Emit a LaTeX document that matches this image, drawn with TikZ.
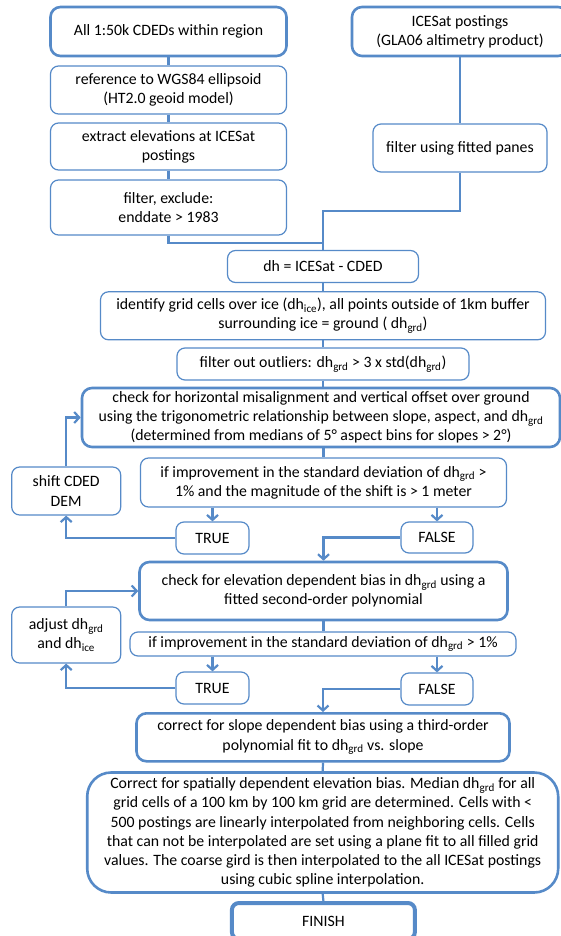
\documentclass[tikz,border=0pt]{standalone}
\usepackage{fontspec}
\setmainfont{Carlito}
\usetikzlibrary{arrows.meta}
\definecolor{bl}{RGB}{86,138,200}
\begin{document}
\begin{tikzpicture}[x=1pt,y=-1pt,
  every node/.style={font=\fontsize{15.8}{19.2}\selectfont},
  tbox/.style={draw=bl, line width=1.2pt, rounded corners=8pt, fill=white, align=center, inner sep=0pt},
  kbox/.style={tbox, line width=2.6pt, rounded corners=10pt},
  conn/.style={draw=bl, line width=2.2pt},
  arr/.style={conn, -{Straight Barb[length=5pt,width=11pt]}}]
\useasboundingbox (0,0) rectangle (561,936);
\clip (0,0) rectangle (561,936);
\fill[white] (0,0) rectangle (561,936);
% left column
\node[kbox, minimum width=236, minimum height=49] (cded) at (168.5,31.5) {All 1:50k CDEDs within region};
\node[tbox, minimum width=236, minimum height=48] (ref) at (168.5,90) {reference to WGS84 ellipsoid\\(HT2.0 geoid model)};
\node[tbox, minimum width=236, minimum height=47] (extract) at (168.5,146.5) {extract elevations at ICESat\\postings};
\node[tbox, minimum width=236, minimum height=55] (filterex) at (168.5,207.5) {filter, exclude:\\enddate > 1983};
% right column
\node[kbox, minimum width=216, minimum height=49] (icesat) at (460,31.5) {ICESat postings\\(GLA06 altimetry product)};
\node[tbox, minimum width=174, minimum height=48] (panes) at (460,148) {filter using fitted panes};
% centre
\node[tbox, minimum width=191, minimum height=32] (dh) at (323,266.5) {dh = ICESat - CDED};
\node[tbox, minimum width=445, minimum height=48] (identify) at (323,315.8) {identify grid cells over ice (dh\textsubscript{ice}), all points outside of 1km buffer\\surrounding ice = ground ( dh\textsubscript{grd})};
\node[tbox, minimum width=292, minimum height=32] (outliers) at (323,364) {filter out outliers: dh\textsubscript{grd} > 3 x std(dh\textsubscript{grd})};
\node[kbox, minimum width=478, minimum height=59] (hcheck) at (321,417.5) {check for horizontal misalignment and vertical offset over ground\\using the trigonometric relationship between slope, aspect, and dh\textsubscript{grd}\\(determined from medians of 5° aspect bins for slopes > 2°)};
\node[tbox, minimum width=366, minimum height=49] (if1) at (323.5,482.5) {if improvement in the standard deviation of dh\textsubscript{grd} >\\1\% and the magnitude of the shift is > 1 meter};
\node[tbox, minimum width=109, minimum height=48] (shift) at (66.2,491) {shift CDED\\DEM};
\node[tbox, minimum width=73, minimum height=32] (true1) at (212.5,538) {TRUE};
\node[tbox, minimum width=72, minimum height=31] (false1) at (437,537.5) {FALSE};
\node[kbox, minimum width=368, minimum height=58] (echeck) at (323.5,591) {check for elevation dependent bias in dh\textsubscript{grd} using a\\fitted second-order polynomial};
\node[tbox, minimum width=109, minimum height=56] (adjust) at (66.2,635) {adjust dh\textsubscript{grd}\\and dh\textsubscript{ice}};
\node[tbox, minimum width=386, minimum height=24] (if2) at (323,644) {if improvement in the standard deviation of dh\textsubscript{grd} > 1\%};
\node[tbox, minimum width=73, minimum height=32] (true2) at (212.5,688) {TRUE};
\node[tbox, minimum width=72, minimum height=32] (false2) at (437,689) {FALSE};
\node[kbox, minimum width=373, minimum height=48] (slope) at (323,737.3) {correct for slope dependent bias using a third-order\\polynomial fit to dh\textsubscript{grd} vs. slope};
\node[kbox, rounded corners=24pt, minimum width=471, minimum height=120] (spatial) at (322.7,832.5) {Correct for spatially dependent elevation bias. Median dh\textsubscript{grd} for all\\grid cells of a 100 km by 100 km grid are determined. Cells with <\\500 postings are linearly interpolated from neighboring cells. Cells\\that can not be interpolated are set using a plane fit to all filled grid\\values. The coarse gird is then interpolated to the all ICESat postings\\using cubic spline interpolation.};
\node[tbox, line width=4pt, rounded corners=7pt, minimum width=183, minimum height=36] (finish) at (323.4,921) {FINISH};
% connectors
\coordinate (j1) at (323,243);
\coordinate (j2) at (323,211);
\begin{scope}[on background layer/.try]
\end{scope}
\draw[conn] (cded.south) -- (ref.north);
\draw[conn] (ref.south) -- (extract.north);
\draw[conn] (extract.south) -- (filterex.north);
\draw[conn] (icesat.south) -- (panes.north);
\draw[conn] (filterex.south) |- (j1);
\draw[conn] (panes.south) |- (j2) -- (dh.north);
\draw[conn] (dh.south) -- (identify.north);
\draw[conn] (identify.south) -- (outliers.north);
\draw[conn] (outliers.south) -- (outliers.south |- hcheck.north);
\draw[conn] (hcheck.south -| if1.north) -- (if1.north);
\draw[arr] (if1.south -| true1.north) -- (true1.north);
\draw[arr] (if1.south -| false1.north) -- (false1.north);
\draw[arr] (true1.west) -| (shift.south);
\draw[arr] (shift.north) |- (hcheck.west);
\draw[arr] (false1.west) -| (echeck.north);
\draw[conn] (echeck.south) -- (echeck.south |- if2.north);
\draw[arr] (if2.south -| true2.north) -- (true2.north);
\draw[arr] (if2.south -| false2.north) -- (false2.north);
\draw[arr] (true2.west) -| (adjust.south);
\draw[arr] (adjust.north) |- (echeck.west);
\draw[arr] (false2.west) -| (slope.north);
\draw[conn] (slope.south) -- (spatial.north);
\draw[conn] (spatial.south) -- (finish.north);
\end{tikzpicture}
\end{document}
